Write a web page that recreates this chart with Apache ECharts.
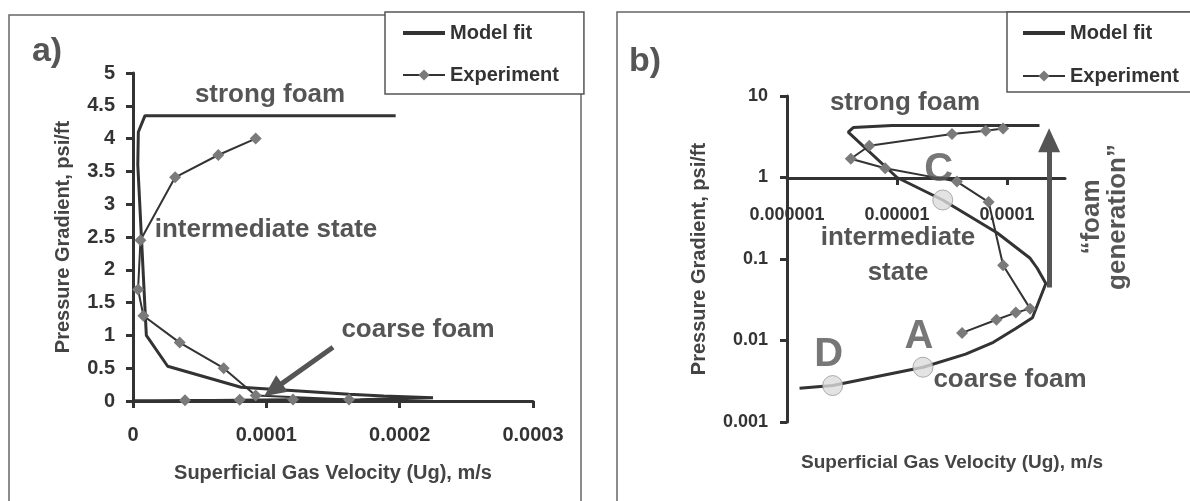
<!DOCTYPE html>
<html>
<head>
<meta charset="utf-8">
<script src="https://cdn.jsdelivr.net/npm/echarts@6/dist/echarts.min.js"></script>
<style>
  html, body { margin: 0; padding: 0; background: #fff; }
  #chart { width: 1190px; height: 501px; }
</style>
</head>
<body>
<div id="chart"></div>
<script>
// model fit, traced from the low end (point D) round the nose and up to the strong-foam plateau
const modelUg = [1.3e-6, 2.6e-6, 1.72e-5, 4.2e-5, 7.5e-5, 1.2e-4, 1.7e-4, 2.25e-4, 1.88e-4, 1.62e-4, 8.1e-5, 2.6e-5, 1.0e-5, 3.6e-6, 4.0e-6, 9.0e-6, 1.97e-4]
const modelGrad = [0.0026, 0.0028, 0.0047, 0.0068, 0.0095, 0.014, 0.019, 0.05, 0.077, 0.102, 0.21, 0.53, 1.0, 3.6, 4.1, 4.35, 4.35]

// experimental points in the order they are joined
const expUg = [3.9e-5, 8.0e-5, 1.2e-4, 1.62e-4, 9.2e-5, 6.8e-5, 3.5e-5, 7.8e-6, 3.8e-6, 5.6e-6, 3.16e-5, 6.4e-5, 9.2e-5]
const expGrad = [0.0124, 0.018, 0.022, 0.0246, 0.084, 0.50, 0.89, 1.3, 1.7, 2.45, 3.41, 3.75, 4.0]

// marked states on panel b
const stateNames = ['D', 'A', 'C']
const stateUg = [2.6e-6, 1.72e-5, 2.6e-5]
const stateGrad = [0.0028, 0.0047, 0.53]

// annotation arrows (data units)
const arrowA = [[1.5e-4, 0.82], [1.05e-4, 0.17]]
const arrowB = [[2.41e-4, 0.0447], [2.41e-4, 2.87]]

const xTickValuesB = [1e-6, 1e-5, 1e-4]
const xTickLabelsB = ['0.000001', '0.00001', '0.0001']
const xMaxB = 3.36e-4

const FONT = '"Liberation Sans", Arial, sans-serif'
const DARK = '#333'
const NOTE = '#555'

const pairs = (xs, ys) => xs.map((x, i) => [x, ys[i]])

const axisLine = { show: true, onZero: false, lineStyle: { color: DARK, width: 3 } }
const axisTick = { show: true, length: 7, lineStyle: { color: DARK, width: 3 } }
const tickLabel = (size, margin) => ({ color: DARK, fontSize: size, fontWeight: 'bold', fontFamily: FONT, margin })
const nameStyle = (size) => ({ color: '#444', fontSize: size, fontWeight: 'bold', fontFamily: FONT })

function legendAt(left, gap, padding) {
  return {
    orient: 'vertical',
    left, top: 12,
    // the model line has no marker, so its legend circle is hidden
    data: [
      { name: 'Model fit', itemStyle: { opacity: 0 }, lineStyle: { width: 4 } },
      { name: 'Experiment', lineStyle: { width: 2 } },
    ],
    itemWidth: 42, itemHeight: 14, itemGap: gap, itemTextGap: 5,
    padding,
    backgroundColor: '#fff',
    borderColor: '#555', borderWidth: 1.5,
    selectedMode: false,
    textStyle: { color: DARK, fontSize: 20, fontWeight: 'bold', fontFamily: FONT, lineHeight: 22 },
  }
}

function arrowMark(coords, size) {
  return {
    silent: true,
    animation: false,
    symbol: ['none', 'triangle'],
    symbolSize: size,
    label: { show: false },
    lineStyle: { color: NOTE, width: 5, type: 'solid' },
    emphasis: { disabled: true },
    data: [[{ coord: coords[0] }, { coord: coords[1] }]],
  }
}

function note(text, x, y, size, extra) {
  return Object.assign({
    type: 'text', x, y, z: 10, silent: true,
    style: {
      text, font: 'bold ' + size + 'px ' + FONT, fill: NOTE,
      align: 'center', verticalAlign: 'middle',
      textAlign: 'center', textVerticalAlign: 'middle',
    },
  }, extra || {})
}

const chart = echarts.init(document.getElementById('chart'), null, { renderer: 'canvas' })

chart.setOption({
  animation: false,
  backgroundColor: '#fff',
  textStyle: { fontFamily: FONT },
  legend: [
    legendAt(385, 20, [10, 25, 8, 16]),
    legendAt(1007, 21, [10, 60, 5, 14]),
  ],
  grid: [
    { left: 133, top: 73, width: 400, height: 328 },
    { left: 787, top: 96, width: 278, height: 326 },
    { left: 787, top: 96, width: 278, height: 82 },
  ],
  xAxis: [
    {
      gridIndex: 0, type: 'value', min: 0, max: 0.0003, interval: 0.0001,
      axisLine, axisTick, splitLine: { show: false },
      axisLabel: tickLabel(20, 24),
      name: 'Superficial Gas Velocity (Ug), m/s', nameLocation: 'middle', nameGap: 62,
      nameTextStyle: nameStyle(20),
    },
    {
      gridIndex: 1, type: 'log', logBase: 10, min: xTickValuesB[0], max: xMaxB, show: false,
    },
    {
      // x axis of panel b, crossing the gradient axis at 1
      gridIndex: 2, type: 'value', min: Math.log10(xTickValuesB[0]), max: Math.log10(xMaxB),
      axisLine,
      axisTick: Object.assign({}, axisTick, { customValues: xTickValuesB.map(Math.log10) }),
      axisLabel: Object.assign(tickLabel(18, 28), {
        customValues: xTickValuesB.map(Math.log10),
        formatter: (v) => xTickLabelsB[Math.round(v) - Math.log10(xTickValuesB[0])] || '',
      }),
      splitLine: { show: false },
    },
  ],
  yAxis: [
    {
      gridIndex: 0, type: 'value', min: 0, max: 5, interval: 0.5,
      axisLine, axisTick, splitLine: { show: false },
      axisLabel: tickLabel(20, 18),
      name: 'Pressure Gradient, psi/ft', nameLocation: 'middle', nameGap: 60, nameRotate: 90,
      nameTextStyle: nameStyle(20),
    },
    {
      gridIndex: 1, type: 'log', logBase: 10, min: 0.001, max: 10,
      axisLine, axisTick, splitLine: { show: false }, minorTick: { show: false },
      axisLabel: Object.assign(tickLabel(18, 19), { formatter: (v) => String(+(+v).toPrecision(4)) }),
      name: 'Pressure Gradient, psi/ft', nameLocation: 'middle', nameGap: 78, nameRotate: 90,
      nameTextStyle: nameStyle(20),
    },
    { gridIndex: 2, type: 'value', min: 0, max: 1, show: false },
  ],
  series: [
    {
      name: 'Model fit', type: 'line', xAxisIndex: 0, yAxisIndex: 0,
      data: pairs(modelUg, modelGrad), symbol: 'none', color: DARK,
      lineStyle: { color: DARK, width: 3 }, z: 3,
      markLine: arrowMark(arrowA, [20, 22]),
    },
    {
      name: 'Experiment', type: 'line', xAxisIndex: 0, yAxisIndex: 0,
      data: pairs(expUg, expGrad), symbol: 'diamond', symbolSize: 12,
      itemStyle: { color: '#7a7a7a' }, lineStyle: { color: DARK, width: 2 }, z: 4,
    },
    {
      name: 'Model fit', type: 'line', xAxisIndex: 1, yAxisIndex: 1,
      data: pairs(modelUg, modelGrad), symbol: 'none', color: DARK,
      lineStyle: { color: DARK, width: 3 }, z: 3,
      markLine: arrowMark(arrowB, [22, 24]),
    },
    {
      name: 'Experiment', type: 'line', xAxisIndex: 1, yAxisIndex: 1,
      data: pairs(expUg, expGrad), symbol: 'diamond', symbolSize: 12,
      itemStyle: { color: '#7a7a7a' }, lineStyle: { color: DARK, width: 2 }, z: 4,
    },
    {
      name: 'states', type: 'scatter', xAxisIndex: 1, yAxisIndex: 1,
      data: pairs(stateUg, stateGrad), symbol: 'circle', symbolSize: 20, z: 5,
      itemStyle: { color: '#dcdcdc', borderColor: '#9a9a9a', borderWidth: 1 },
      label: {
        show: true, position: 'top', distance: 0, offset: [-4, 0],
        formatter: (p) => stateNames[p.dataIndex],
        color: NOTE, fontSize: 40, fontWeight: 'bold', fontFamily: FONT,
      },
    },
  ],
  graphic: [
    { type: 'rect', z: 0, silent: true, shape: { x: 9, y: 15, width: 572, height: 520 },
      style: { fill: 'none', stroke: '#666', lineWidth: 1.5 } },
    { type: 'rect', z: 0, silent: true, shape: { x: 617, y: 12, width: 600, height: 520 },
      style: { fill: 'none', stroke: '#666', lineWidth: 1.5 } },
    note('a)', 47, 52, 34),
    note('b)', 645, 62, 34),
    note('strong foam', 270, 95, 26),
    note('intermediate state', 266, 230, 26),
    note('coarse foam', 418, 330, 26),
    note('strong foam', 905, 103, 26),
    note('intermediate', 898, 238, 26),
    note('state', 898, 273, 26),
    note('coarse foam', 1010, 380, 26),
    note('\u201cfoam\ngeneration\u201d', 1105, 217, 26, { rotation: Math.PI / 2 }),
    {
      type: 'text', x: 952, y: 463, silent: true,
      style: {
        text: 'Superficial Gas Velocity (Ug), m/s', font: 'bold 19px ' + FONT, fill: '#444',
        align: 'center', verticalAlign: 'middle', textAlign: 'center', textVerticalAlign: 'middle',
      },
    },
  ],
})
</script>
</body>
</html>
